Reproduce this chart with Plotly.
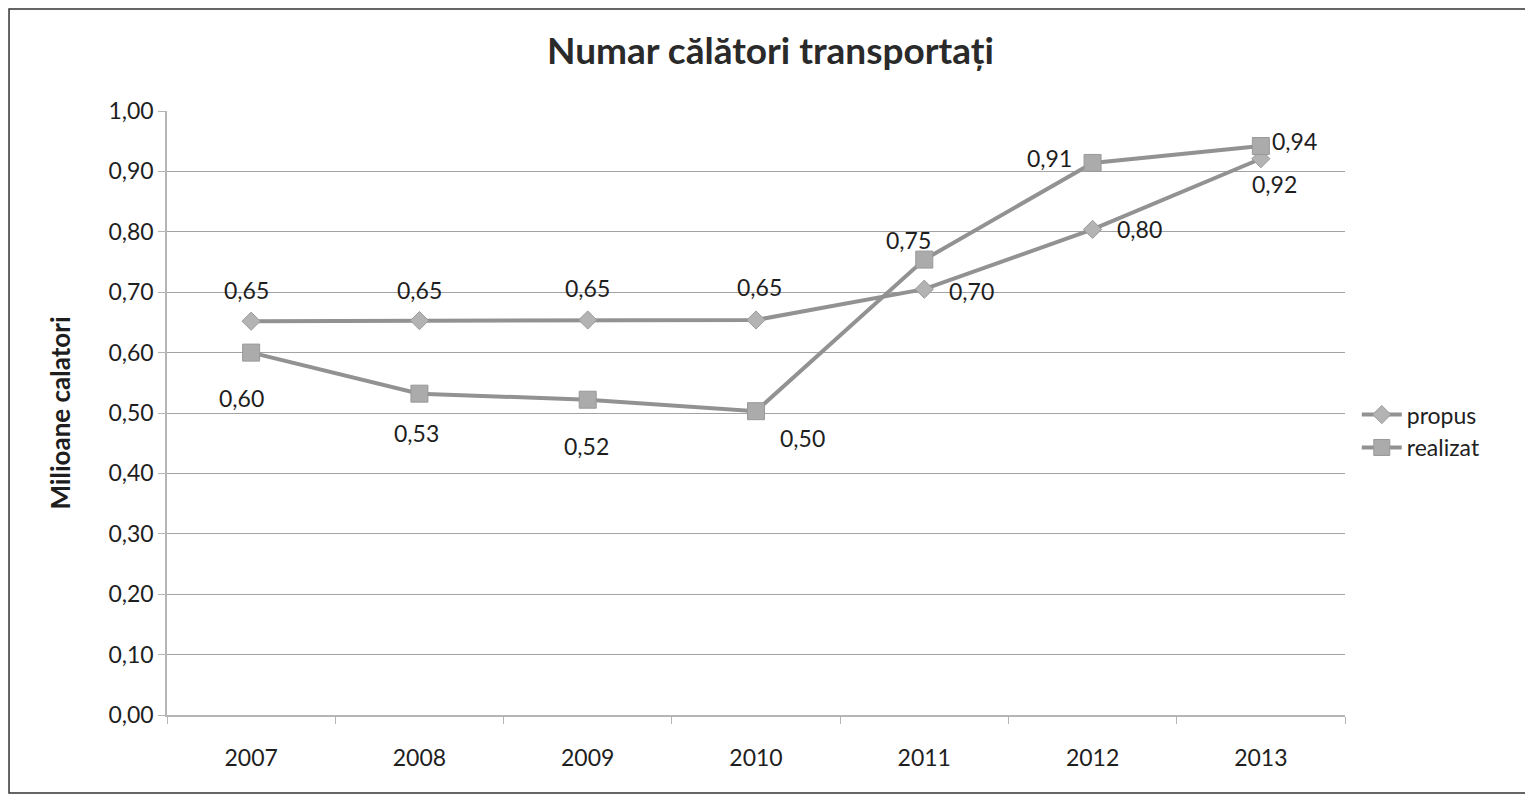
import plotly.graph_objects as go

years = ["2007", "2008", "2009", "2010", "2011", "2012", "2013"]
propus = [0.652, 0.653, 0.654, 0.654, 0.705, 0.804, 0.921]
realizat = [0.60, 0.532, 0.522, 0.503, 0.754, 0.914, 0.942]

# label offsets from the marker, in pixels (dx, dy up)
propus_off = [(-5, 31), (0, 31), (0, 32), (3, 33), (47, -2), (47, 0), (14, -25)]
realizat_off = [(-10, -45), (-3, -39), (-1, -46), (46, -27), (-16, 20), (-43, 5), (34, 5)]

FONT = "Lato, 'Open Sans', sans-serif"
TXT = "#1e1e1e"


def fmt(v):
    return f"{v:.2f}".replace(".", ",")


fig = go.Figure()
fig.add_trace(go.Scatter(
    x=years, y=propus, name="propus", mode="lines+markers",
    line=dict(color="#929292", width=4),
    marker=dict(symbol="diamond", size=14, color="#b3b3b3",
                line=dict(color="#9a9a9a", width=1)),
))
fig.add_trace(go.Scatter(
    x=years, y=realizat, name="realizat", mode="lines+markers",
    line=dict(color="#929292", width=4),
    marker=dict(symbol="square", size=17, color="#ababab",
                line=dict(color="#999999", width=1)),
))

# category axis: annotations are placed by category index
for vals, offs in [(propus, propus_off), (realizat, realizat_off)]:
    for i, (v, (dx, dy)) in enumerate(zip(vals, offs)):
        fig.add_annotation(x=i, y=v, text=fmt(v), showarrow=False,
                           xshift=dx, yshift=dy,
                           font=dict(size=23, color=TXT, family=FONT))

fig.update_layout(
    width=1525, height=791,
    margin=dict(l=159, r=188, t=103, b=84),
    paper_bgcolor="white", plot_bgcolor="white",
    separators=",.",
    font=dict(family=FONT, size=23, color=TXT),
    title=dict(text="<b>Numar călători transportați</b>", x=0.5, xanchor="center",
               y=0.945, yanchor="middle", font=dict(size=37, color="#2a2a2a")),
    legend=dict(x=1.01, y=0.47, xanchor="left", yanchor="middle",
                font=dict(size=23), tracegroupgap=6, itemwidth=40),
    showlegend=True,
)
fig.update_xaxes(
    type="category", range=[-0.5, 6.5], showgrid=False,
    showline=True, linecolor="#b5b5b5", linewidth=1.5,
    ticks="outside", tickson="boundaries", ticklen=7, tickcolor="#b5b5b5",
    tickfont=dict(size=23), ticklabelstandoff=22,
)
fig.update_yaxes(
    range=[0, 1.0], dtick=0.1, tickformat=".2f",
    showgrid=True, gridcolor="#a3a3a3", gridwidth=1.2,
    showline=True, linecolor="#b5b5b5", linewidth=1.5,
    ticks="outside", ticklen=7, tickcolor="#b5b5b5",
    tickfont=dict(size=23), zeroline=False,
    title=dict(text="<b>Milioane calatori</b>", font=dict(size=26), standoff=30),
)
fig.add_shape(type="rect", xref="paper", yref="paper",
              x0=-0.1341, x1=1.1553, y0=-0.1291, y1=1.1689,
              line=dict(color="#333333", width=1.5))

fig.write_html("out.html")
